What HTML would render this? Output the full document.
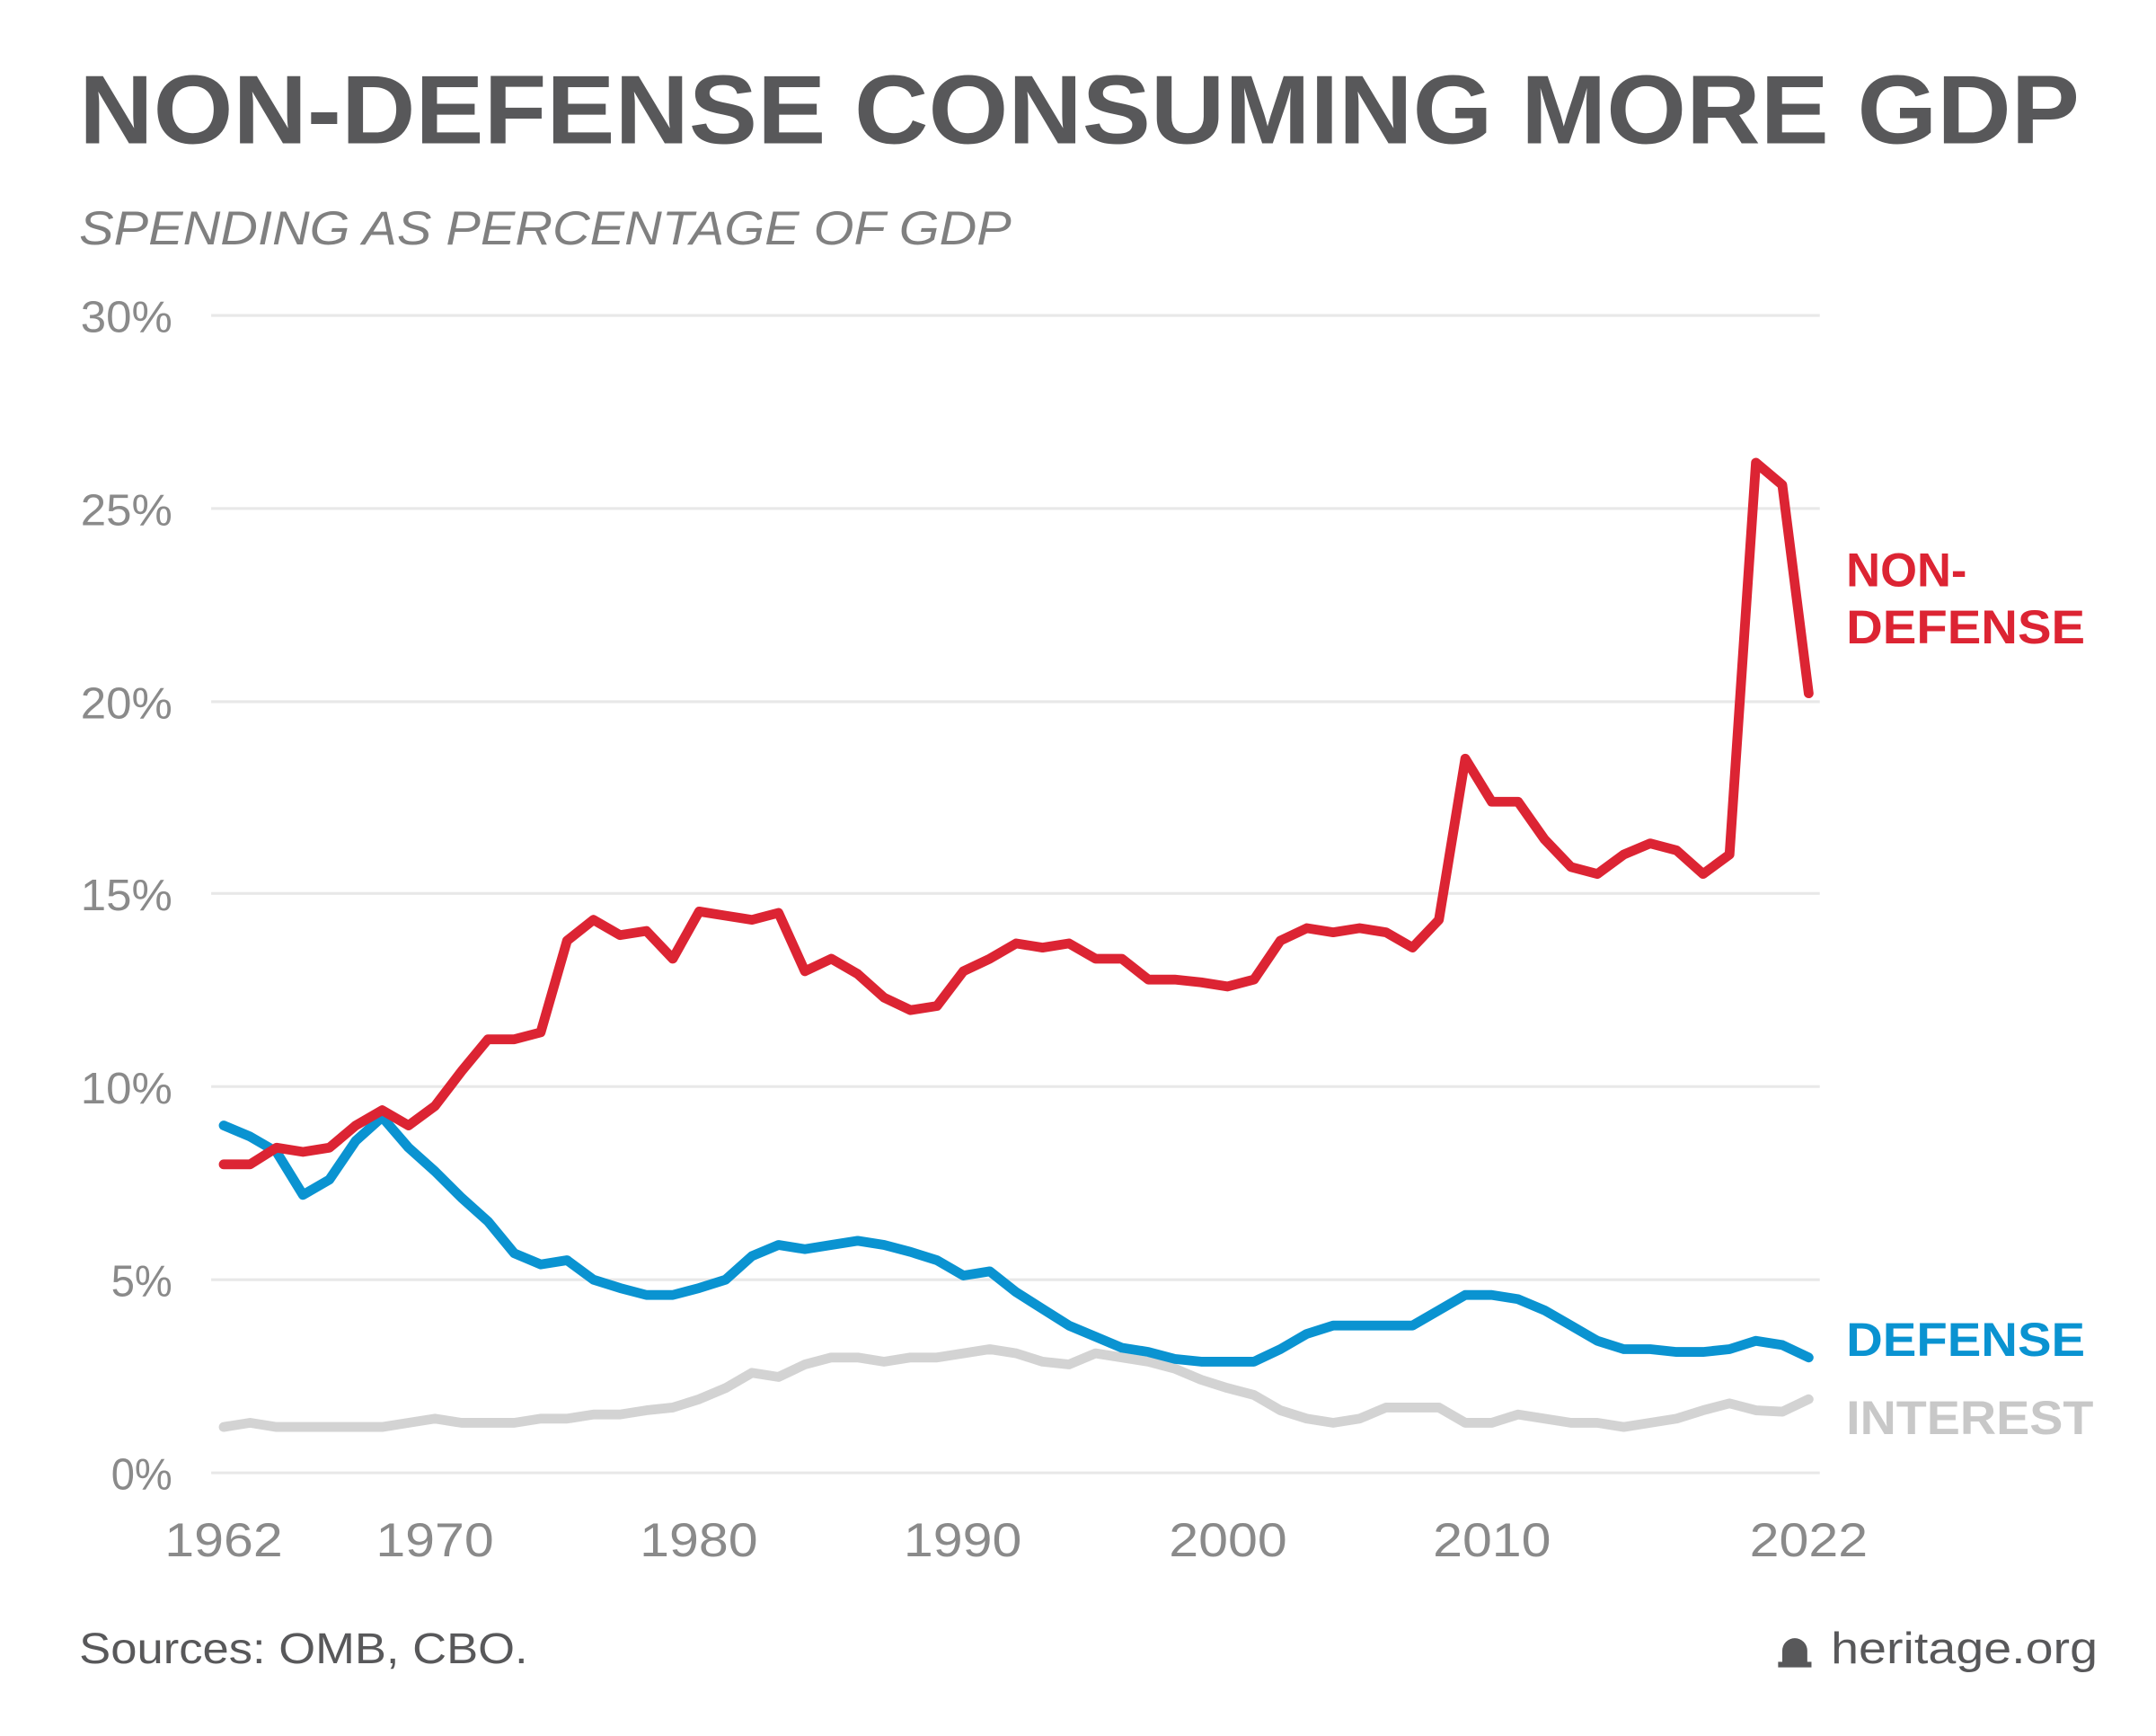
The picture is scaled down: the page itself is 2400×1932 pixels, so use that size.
<!DOCTYPE html>
<html><head><meta charset="utf-8"><style>
html,body{margin:0;padding:0;background:#fff;}
svg{display:block;}
text{font-family:"Liberation Sans",sans-serif;}
</style></head><body>
<svg width="2400" height="1932" viewBox="0 0 1552 1249.4" xmlns="http://www.w3.org/2000/svg">
<rect width="1552" height="1250" fill="#fff"/>
<text x="57" y="103" font-size="70" font-weight="bold" fill="#58585a" textLength="1440" lengthAdjust="spacingAndGlyphs">NON-DEFENSE CONSUMING MORE GDP</text>
<text x="57" y="176" font-size="34" font-style="italic" fill="#808080" textLength="671" lengthAdjust="spacingAndGlyphs">SPENDING AS PERCENTAGE OF GDP</text>
<g stroke="#e8e8e8" stroke-width="2">
<line x1="152" x2="1310" y1="227" y2="227"/><line x1="152" x2="1310" y1="366" y2="366"/>
<line x1="152" x2="1310" y1="505" y2="505"/><line x1="152" x2="1310" y1="643" y2="643"/>
<line x1="152" x2="1310" y1="782" y2="782"/><line x1="152" x2="1310" y1="921" y2="921"/>
<line x1="152" x2="1310" y1="1060" y2="1060"/>
</g>
<g font-size="32" fill="#8a8a8a" text-anchor="end">
<text x="124" y="239" textLength="66" lengthAdjust="spacingAndGlyphs">30%</text>
<text x="124" y="378" textLength="66" lengthAdjust="spacingAndGlyphs">25%</text>
<text x="124" y="517" textLength="66" lengthAdjust="spacingAndGlyphs">20%</text>
<text x="124" y="655" textLength="66" lengthAdjust="spacingAndGlyphs">15%</text>
<text x="124" y="794" textLength="66" lengthAdjust="spacingAndGlyphs">10%</text>
<text x="124" y="933" textLength="44" lengthAdjust="spacingAndGlyphs">5%</text>
<text x="124" y="1072" textLength="44" lengthAdjust="spacingAndGlyphs">0%</text>
</g>
<g font-size="34" fill="#8a8a8a" text-anchor="middle">
<text x="161" y="1120" textLength="85" lengthAdjust="spacingAndGlyphs">1962</text>
<text x="313" y="1120" textLength="85" lengthAdjust="spacingAndGlyphs">1970</text>
<text x="503" y="1120" textLength="85" lengthAdjust="spacingAndGlyphs">1980</text>
<text x="693" y="1120" textLength="85" lengthAdjust="spacingAndGlyphs">1990</text>
<text x="884" y="1120" textLength="85" lengthAdjust="spacingAndGlyphs">2000</text>
<text x="1074" y="1120" textLength="85" lengthAdjust="spacingAndGlyphs">2010</text>
<text x="1302" y="1120" textLength="85" lengthAdjust="spacingAndGlyphs">2022</text>
</g>
<g fill="none" stroke-width="7" stroke-linejoin="round" stroke-linecap="round">
<polyline id="i" stroke="#d3d3d3" points=""/>
<polyline id="d" stroke="#0a93d1" points=""/>
<polyline id="n" stroke="#dc2433" points=""/>
</g>
<g font-size="34" font-weight="bold">
<text x="1329" y="422" fill="#dc2433">NON-</text>
<text x="1329" y="463" fill="#dc2433" textLength="172" lengthAdjust="spacingAndGlyphs">DEFENSE</text>
<text x="1329" y="976" fill="#0a93d1" textLength="172" lengthAdjust="spacingAndGlyphs">DEFENSE</text>
<text x="1329" y="1032" fill="#c8c8c8" textLength="178" lengthAdjust="spacingAndGlyphs">INTEREST</text>
</g>
<text x="57" y="1197" font-size="31" fill="#58585a" textLength="323" lengthAdjust="spacingAndGlyphs">Sources: OMB, CBO.</text>
<text x="1318" y="1197" font-size="32" fill="#58585a" textLength="192" lengthAdjust="spacingAndGlyphs">heritage.org</text>
<path d="M1283 1198 v-10 a9 9 0 0 1 18 0 v10 z" fill="#58585a"/>
<rect x="1280" y="1196" width="24" height="4" fill="#58585a"/>
<script>
function pts(a){return a.map((y,i)=>(161+i*19.017).toFixed(1)+","+y).join(" ");}
var n=[838,838,826,829,826,810,799,810,796,771,748,748,743,677,662,673,670,690,656,659,662,657,699,690,701,718,727,724,699,690,679,682,679,690,690,705,705,707,710,705,677,668,671,668,671,682,662,546,577,577,604,624,629,615,607,612,629,615,333,349,499];
var d=[810,818,829,860,849,821,804,826,843,862,879,902,910,907,921,927,932,932,927,921,904,896,899,896,893,896,901,907,918,915,930,942,954,962,970,973,978,980,980,980,971,960,954,954,954,954,943,932,932,935,943,954,965,971,971,973,973,971,965,968,977];
var it=[1027,1024,1027,1027,1027,1027,1027,1024,1021,1024,1024,1024,1021,1021,1018,1018,1015,1013,1007,999,988,991,982,977,977,980,977,977,974,971,974,980,982,974,977,980,985,993,999,1004,1015,1021,1024,1021,1013,1013,1013,1024,1024,1018,1021,1024,1024,1027,1024,1021,1015,1010,1015,1016,1007];
document.getElementById("n").setAttribute("points",pts(n));
document.getElementById("d").setAttribute("points",pts(d));
document.getElementById("i").setAttribute("points",pts(it));
</script>
</svg>
</body></html>
